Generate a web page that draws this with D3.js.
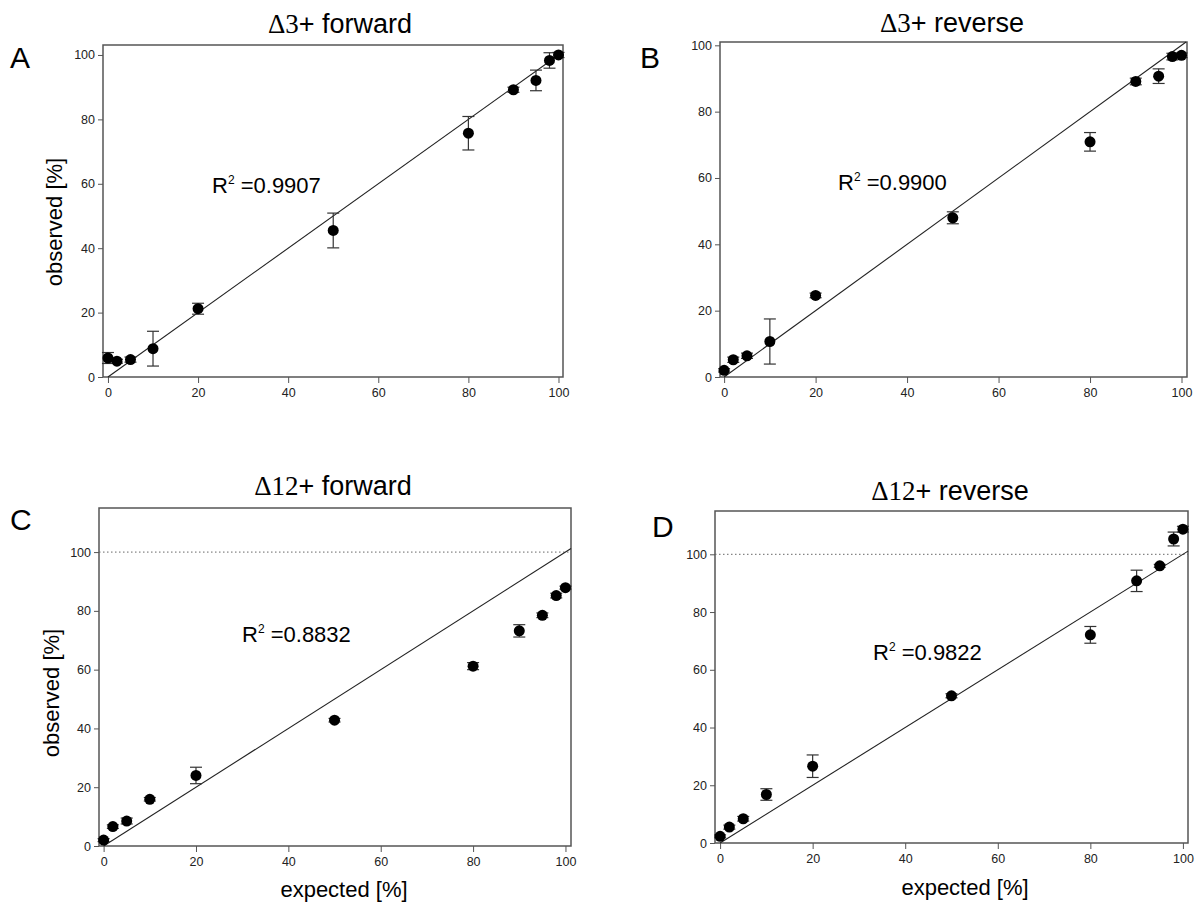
<!DOCTYPE html>
<html lang="en">
<head>
  <meta charset="UTF-8">
  <title>observed vs expected</title>
  <script src="https://cdn.jsdelivr.net/npm/d3@7"></script>
  <style>
    body { margin: 0; background: #fff; }
    svg { font-family: "Liberation Sans", Arial, sans-serif; }
    .tick text { font-size: 12.5px; fill: #222; }
    .tick line, .domain { stroke: #555; }
  </style>
</head>
<body>
<script>
// data
let expected = [0, 2, 5, 10, 20, 50, 80, 90, 95, 98, 100];

let obsA = [5.9, 4.9, 5.4, 8.8, 21.2, 45.5, 75.7, 89.2, 92.1, 98.3, 100.0];
let errA = [1.7, 0.6, 0.8, 5.4, 1.7, 5.4, 5.2, 0.8, 3.2, 2.4, 0.8];

let obsB = [2.0, 5.2, 6.4, 10.7, 24.6, 48.0, 70.9, 89.1, 90.7, 96.6, 97.0];
let errB = [0.5, 0.8, 0.8, 6.8, 0.7, 1.8, 2.8, 1.0, 2.2, 1.0, 0.7];

let obsC = [2.0, 6.6, 8.5, 15.9, 24.0, 42.8, 61.2, 73.2, 78.5, 85.2, 87.9];
let errC = [0.5, 0.6, 1.0, 0.6, 2.8, 0.6, 1.2, 2.1, 0.8, 0.8, 0.5];

let obsD = [2.3, 5.5, 8.4, 16.8, 26.6, 51.0, 72.1, 90.8, 96.0, 105.3, 108.7];
let errD = [0.5, 0.7, 0.8, 2.0, 3.9, 0.7, 2.9, 3.7, 0.5, 2.4, 1.0];

let letters = ['A', 'B', 'C', 'D'];
let deltas = ['Δ3', 'Δ3', 'Δ12', 'Δ12'];
let titleRest = ['+ forward', '+ reverse', '+ forward', '+ reverse'];
let r2Values = ['0.9907', '0.9900', '0.8832', '0.9822'];
let fitSlope = [1.0, 1.0, 1.0, 1.0];
let fitIntercept = [0, 0, 0, 0];
let tickValues = [0, 20, 40, 60, 80, 100];

let series = [
  { obs: obsA, err: errA },
  { obs: obsB, err: errB },
  { obs: obsC, err: errC },
  { obs: obsD, err: errD }
];

// layout of the four panels
let panels = [
  { left: 103, right: 563, top: 45, bottom: 377, xd: [-1.1, 101.0], yd: [0, 103.1], fitEnd: 100,
    title: [340, 33], letter: [10, 68], r2: [212, 193], ylab: [62, 222], xlab: null, ref100: false },
  { left: 720, right: 1187, top: 42, bottom: 377, xd: [-0.9, 101.2], yd: [0, 101], fitEnd: 101,
    title: [952, 32], letter: [640, 68], r2: [838, 190], ylab: null, xlab: null, ref100: false },
  { left: 99, right: 571, top: 508, bottom: 846, xd: [-1.0, 101.2], yd: [0, 115], fitEnd: 101.2,
    title: [333, 495], letter: [10, 530], r2: [242, 642], ylab: [59, 693], xlab: [344, 897], ref100: true },
  { left: 715, right: 1188, top: 511, bottom: 843, xd: [-1.1, 101.1], yd: [0, 115], fitEnd: 101.1,
    title: [950, 500], letter: [652, 537], r2: [873, 660], ylab: null, xlab: [965, 895], ref100: true }
];

let svg = d3.select('body')
  .append('svg')
  .attr('width', 1200)
  .attr('height', 910);

function renderPanel(p, i) {
  let x = d3.scaleLinear().domain(p.xd).range([p.left, p.right]);
  let y = d3.scaleLinear().domain(p.yd).range([p.bottom, p.top]);
  let g = svg.append('g');

  g.append('rect')
    .attr('x', p.left)
    .attr('y', p.top)
    .attr('width', p.right - p.left)
    .attr('height', p.bottom - p.top)
    .attr('fill', 'none')
    .attr('stroke', '#555')
    .attr('stroke-width', 1.5);

  g.append('g')
    .attr('transform', 'translate(0,' + p.bottom + ')')
    .call(d3.axisBottom(x).tickValues(tickValues).tickSize(6).tickPadding(5))
    .call(a => a.select('.domain').remove());

  g.append('g')
    .attr('transform', 'translate(' + p.left + ',0)')
    .call(d3.axisLeft(y).tickValues(tickValues).tickSize(5).tickPadding(3))
    .call(a => a.select('.domain').remove());

  if (p.ref100) {
    g.append('line')
      .attr('x1', p.left).attr('x2', p.right)
      .attr('y1', y(100)).attr('y2', y(100))
      .attr('stroke', '#666')
      .attr('stroke-width', 1)
      .attr('stroke-dasharray', '1.5,2.5');
  }

  // regression line
  let x0 = Math.max(0, -fitIntercept[i] / fitSlope[i]);
  g.append('line')
    .attr('x1', x(x0)).attr('y1', y(fitIntercept[i] + fitSlope[i] * x0))
    .attr('x2', x(p.fitEnd)).attr('y2', y(fitIntercept[i] + fitSlope[i] * p.fitEnd))
    .attr('stroke', '#222')
    .attr('stroke-width', 1.1);

  let s = series[i];
  let pts = expected.map((e, k) => ({ e: e, o: s.obs[k], d: s.err[k] }));

  let bars = g.selectAll('.err').data(pts).enter().append('g').attr('class', 'err')
    .attr('stroke', '#333').attr('stroke-width', 1.2);
  bars.append('line')
    .attr('x1', d => x(d.e)).attr('x2', d => x(d.e))
    .attr('y1', d => y(d.o - d.d)).attr('y2', d => y(d.o + d.d));
  bars.append('line')
    .attr('x1', d => x(d.e) - 6).attr('x2', d => x(d.e) + 6)
    .attr('y1', d => y(d.o + d.d)).attr('y2', d => y(d.o + d.d));
  bars.append('line')
    .attr('x1', d => x(d.e) - 6).attr('x2', d => x(d.e) + 6)
    .attr('y1', d => y(d.o - d.d)).attr('y2', d => y(d.o - d.d));

  g.selectAll('circle').data(pts).enter().append('circle')
    .attr('cx', d => x(d.e))
    .attr('cy', d => y(d.o))
    .attr('r', 5.5)
    .attr('fill', '#000');

  // texts
  let t = g.append('text')
    .attr('x', p.title[0]).attr('y', p.title[1])
    .attr('text-anchor', 'middle')
    .attr('font-size', 27)
    .attr('fill', '#000');
  t.append('tspan').attr('font-family', '"Liberation Serif", "Times New Roman", serif').text(deltas[i]);
  t.append('tspan').text(titleRest[i]);

  g.append('text')
    .attr('x', p.letter[0]).attr('y', p.letter[1])
    .attr('font-size', 30)
    .text(letters[i]);

  let r = g.append('text')
    .attr('x', p.r2[0]).attr('y', p.r2[1])
    .attr('font-size', 22);
  r.append('tspan').text('R');
  r.append('tspan').attr('font-size', 12).attr('dy', -9).text('2');
  r.append('tspan').attr('dy', 9).text(' =' + r2Values[i]);

  if (p.ylab) {
    g.append('text')
      .attr('transform', 'translate(' + p.ylab[0] + ',' + p.ylab[1] + ') rotate(-90)')
      .attr('text-anchor', 'middle')
      .attr('font-size', 22)
      .text('observed [%]');
  }
  if (p.xlab) {
    g.append('text')
      .attr('x', p.xlab[0]).attr('y', p.xlab[1])
      .attr('text-anchor', 'middle')
      .attr('font-size', 22)
      .text('expected [%]');
  }
}

panels.forEach(renderPanel);
</script>
</body>
</html>
